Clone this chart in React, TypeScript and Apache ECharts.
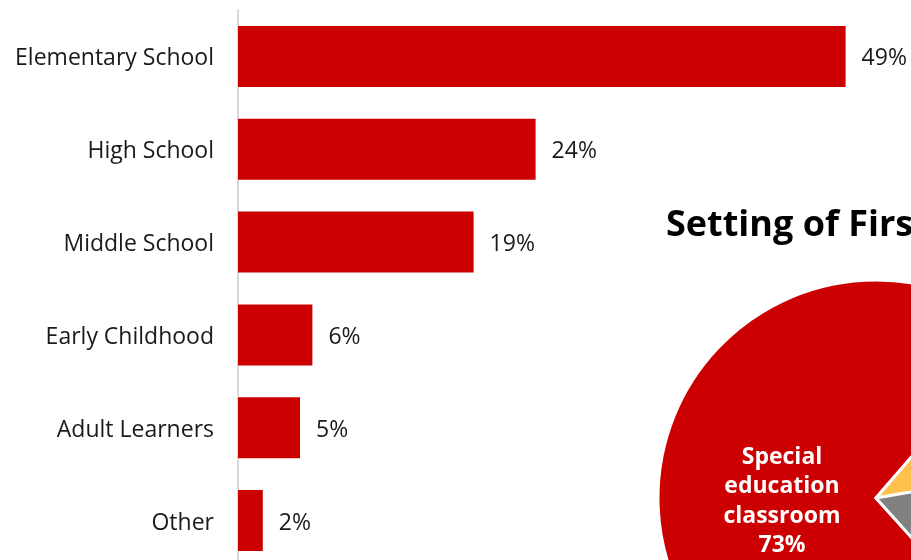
import React, { useEffect, useRef } from "react";
import * as echarts from "echarts";

const categories = ["Elementary School", "High School", "Middle School", "Early Childhood", "Adult Learners", "Other"];
const barValues = [49, 24, 19, 6, 5, 2];

const pieNames = ["Special education classroom", "Resource room", "General education classroom"];
const pieValues = [73, 11, 16];
const pieColors = ["#CC0000", "#FFC04D", "#808080"];

const titleText = "Setting of First Position";

export default function App() {
  const ref = useRef<HTMLDivElement>(null);
  useEffect(() => {
    if (!ref.current) return;
    const chart = echarts.init(ref.current, undefined, { renderer: "svg" });
    chart.setOption({
      animation: false,
      title: {
        text: titleText,
        left: 661,
        top: 199,
        textStyle: { fontFamily: "Open Sans", fontWeight: "bold", fontSize: 36, color: "#000" },
      },
      grid: { left: 238, top: 10, height: 557, width: 620, containLabel: false, outerBoundsMode: "none" },
      xAxis: { type: "value", min: 0, max: 50, show: false },
      yAxis: {
        type: "category",
        data: categories,
        inverse: true,
        axisTick: { show: false },
        axisLine: { lineStyle: { color: "#d9d9d9", width: 2 } },
        axisLabel: { margin: 24, fontFamily: "Open Sans", fontSize: 23, color: "#1a1a1a" },
      },
      series: [
        {
          type: "bar",
          data: barValues,
          barWidth: 61,
          itemStyle: { color: "#CC0000" },
          label: {
            show: true,
            position: "right",
            distance: 16,
            fontFamily: "Open Sans",
            fontSize: 23,
            color: "#1a1a1a",
            formatter: (p: any) => `${p.value}%`,
          },
        },
        {
          type: "pie",
          center: [876, 498],
          radius: 218,
          startAngle: 312,
          clockwise: true,
          data: pieNames.map((n, i) => ({
            name: n,
            value: pieValues[i],
            itemStyle: { color: pieColors[i] },
            label: i === 0 ? {} : { show: false },
          })),
          itemStyle: { borderColor: "#fff", borderWidth: 3 },
          label: {
            show: true,
            position: "inside",
            fontFamily: "Open Sans",
            fontWeight: "bold",
            fontSize: 23,
            lineHeight: 29.5,
            color: "#fff",
            padding: [0, 0, 0, 36],
            formatter: (p: any) => p.name.replace(/ /g, "\n") + "\n" + p.value + "%",
          },
          labelLine: { show: false },
        },
      ],
    });
    return () => chart.dispose();
  }, []);
  return <div ref={ref} style={{ position: "fixed", left: 0, top: 0, width: 911, height: 560 }} />;
}
